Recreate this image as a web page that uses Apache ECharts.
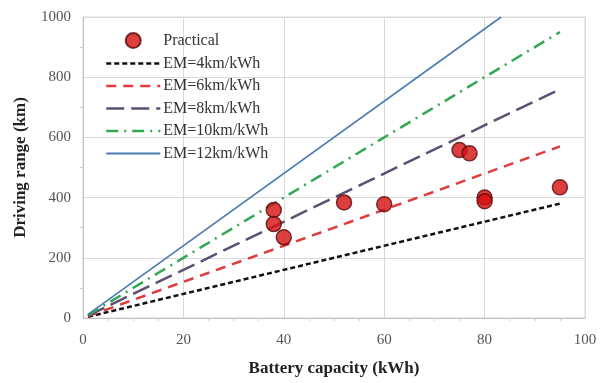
<!DOCTYPE html>
<html>
<head>
<meta charset="utf-8">
<script src="https://cdn.jsdelivr.net/npm/echarts@6/dist/echarts.min.js"></script>
<style>html,body{margin:0;padding:0;background:#fff}#c{width:602px;height:383px}</style>
</head>
<body>
<div id="c"></div>
<script>
// Data
const practicalX = [38, 38, 40, 52, 60, 75, 77, 80, 80, 95];
const practicalY = [359, 312, 268, 384, 378, 558, 547, 400, 388, 434];
const lineX = [1, 95];
const em4Y = [4, 380];
const em6Y = [6, 570];
const em8Y = [8, 760];
const em10Y = [10, 950];
const em12X = [1, 83.3];
const em12Y = [12, 1000];
const xTicks = [0, 20, 40, 60, 80, 100];
const yTicks = [0, 200, 400, 600, 800, 1000];
const seriesNames = ['Practical', 'EM=4km/kWh', 'EM=6km/kWh', 'EM=8km/kWh', 'EM=10km/kWh', 'EM=12km/kWh'];

const zip = (xs, ys) => xs.map((x, i) => [x, ys[i]]);
const serif = '"Liberation Serif", "DejaVu Serif", serif';
const clear = 'rgba(0,0,0,0)';

const chart = echarts.init(document.getElementById('c'), null, {renderer: 'canvas'});
function lineSeries(name, data, color, type, width) {
  return {
    name, type: 'line', data, symbol: 'none', z: 2,
    lineStyle: {color, type, width},
    itemStyle: {color}
  };
}
chart.setOption({
  animation: false,
  backgroundColor: '#fff',
  textStyle: {fontFamily: serif},
  grid: {left: 83, right: 17, top: 17, bottom: 65, show: true, borderColor: '#d9d9d9', borderWidth: 1},
  legend: {
    orient: 'vertical', left: 105, top: 32, padding: 0,
    itemWidth: 54, itemHeight: 15, itemGap: 6.5,
    textStyle: {fontFamily: serif, fontSize: 16, color: '#333', padding: [0, 0, 0, -2]},
    data: seriesNames.map((n, i) => i === 0
      ? {name: n}
      : {name: n, itemStyle: {color: clear, borderColor: clear, borderWidth: 0},
         lineStyle: {width: i === 5 ? 1.8 : 2.5}})
  },
  xAxis: {
    type: 'value', min: 0, max: 100, interval: 20,
    name: 'Battery capacity (kWh)', nameLocation: 'middle', nameGap: 42,
    nameTextStyle: {fontFamily: serif, fontSize: 17, fontWeight: 'bold', color: '#222'},
    axisLine: {show: true, lineStyle: {color: '#bfbfbf'}},
    axisTick: {show: false},
    minorTick: {show: true, splitNumber: 4, length: 3, lineStyle: {color: '#d0d0d0'}},
    axisLabel: {fontFamily: serif, fontSize: 15, color: '#555', margin: 15,
      formatter: v => xTicks.includes(v) ? String(v) : ''},
    splitLine: {show: true, lineStyle: {color: '#d9d9d9'}}
  },
  yAxis: {
    type: 'value', min: 0, max: 1000, interval: 200,
    name: 'Driving range (km)', nameLocation: 'middle', nameGap: 54, nameRotate: 90,
    nameTextStyle: {fontFamily: serif, fontSize: 17, fontWeight: 'bold', color: '#222'},
    axisLine: {show: true, lineStyle: {color: '#bfbfbf'}},
    axisTick: {show: false},
    minorTick: {show: true, splitNumber: 2, length: 3, lineStyle: {color: '#d0d0d0'}},
    axisLabel: {fontFamily: serif, fontSize: 15, color: '#555', margin: 12,
      formatter: v => yTicks.includes(v) ? String(v) : ''},
    splitLine: {show: true, lineStyle: {color: '#d9d9d9'}}
  },
  series: [
    {
      name: 'Practical', type: 'scatter', data: zip(practicalX, practicalY),
      symbol: 'circle', symbolSize: 15, z: 5,
      itemStyle: {color: '#d40f0f', borderColor: '#5a0a0a', borderWidth: 1.5}
    },
    lineSeries('EM=4km/kWh', zip(lineX, em4Y), '#111111', [5, 3], 2.5),
    lineSeries('EM=6km/kWh', zip(lineX, em6Y), '#e03a3a', [10, 7], 2.5),
    lineSeries('EM=8km/kWh', zip(lineX, em8Y), '#5e4f74', [18, 7], 2.5),
    lineSeries('EM=10km/kWh', zip(lineX, em10Y), '#30a852', [12, 6, 2, 6], 2.5),
    lineSeries('EM=12km/kWh', zip(em12X, em12Y), '#4a7cb0', 'solid', 1.6)
  ]
});
</script>
</body>
</html>
